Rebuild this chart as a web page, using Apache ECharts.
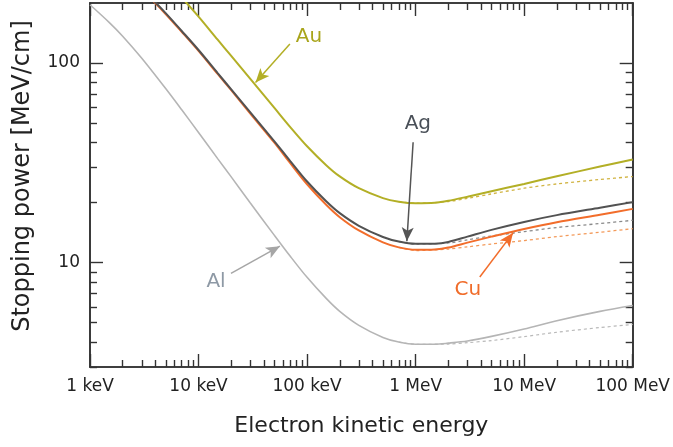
<!DOCTYPE html>
<html>
<head>
<meta charset="utf-8">
<script src="https://cdn.jsdelivr.net/npm/echarts@6/dist/echarts.min.js"></script>
<style>
  html, body { margin: 0; padding: 0; background: #ffffff; }
  #chart { width: 673px; height: 447px; }
</style>
</head>
<body>
<div id="chart"></div>
<script>
// Electron stopping power in four metals, energy in keV, stopping power in MeV/cm
const energyKeV = [1, 1.5, 2, 3, 5, 7, 10, 15, 20, 30, 50, 70, 100, 150, 200, 300, 500, 700,
  1000, 1500, 2000, 3000, 5000, 10000, 20000, 50000, 100000];

// total stopping power (solid curves)
const auTotal = [618, 505, 435, 349, 261, 213, 171, 131, 108.6, 83.3, 59.6, 47.8, 38.3, 30.8, 27.05, 23.6, 21.06, 20.2,
  19.85, 19.95, 20.4, 21.4, 22.8, 24.8, 27.1, 30.3, 32.9];
const agTotal = [420, 343, 296, 237, 177.5, 144.8, 116.3, 89.1, 73.8, 56.6, 40.5, 32.3, 25.5, 20.3, 17.7, 15.3, 13.45, 12.75,
  12.42, 12.45, 12.7, 13.5, 14.6, 16.0, 17.3, 18.85, 20.1];
const cuTotal = [416, 340, 293, 235, 175.7, 143.4, 115.1, 88.2, 73.1, 55.8, 39.9, 31.5, 24.7, 19.5, 16.9, 14.5, 12.64, 11.93,
  11.6, 11.65, 11.9, 12.6, 13.5, 14.75, 15.95, 17.4, 18.6];
const alTotal = [196, 160, 136.4, 105.7, 74.3, 58.3, 44.9, 33.2, 26.9, 19.9, 13.7, 10.76, 8.44, 6.62, 5.7, 4.85, 4.22, 4.0,
  3.9, 3.9, 3.95, 4.05, 4.27, 4.65, 5.12, 5.7, 6.1];

// collision-only stopping power (dashed curves), high-energy part
const highEnergyKeV = [700, 1000, 2000, 3000, 5000, 10000, 20000, 50000, 100000];
const auCollision = [20.2, 19.85, 20.25, 21.0, 22.1, 23.6, 24.8, 26.1, 27.0];
const agCollision = [12.75, 12.4, 12.55, 13.0, 13.6, 14.3, 15.0, 15.7, 16.3];
const cuCollision = [11.93, 11.5, 11.7, 12.0, 12.4, 12.9, 13.5, 14.2, 14.8];
const alCollision = [4.0, 3.9, 3.91, 3.97, 4.07, 4.26, 4.48, 4.73, 4.9];

// axis ticks
const xTickValues = [1, 10, 100, 1000, 10000, 100000];
const xTickLabels = ['1 keV', '10 keV', '100 keV', '1 MeV', '10 MeV', '100 MeV'];
const yTickValues = [10, 100];
const yTickLabels = ['10', '100'];
const yMinorValues = [3, 4, 5, 6, 7, 8, 9, 20, 30, 40, 50, 60, 70, 80, 90];

// element labels: [text, label energy, label value, arrow start energy, arrow start value, arrow tip energy, arrow tip value]
const auNote = ['Au', 104, 135, 69.4, 124.5, 33.5, 80];
const agNote = ['Ag', 1048, 49.7, 948, 40.1, 830, 12.8];
const cuNote = ['Cu', 3030, 7.27, 3900, 8.47, 7900, 14.1];
const alNote = ['Al', 14.5, 8.06, 19.9, 8.84, 56.2, 12.1];

const FONT = 'DejaVu Sans';
const AXIS_COLOR = '#333333';

const COLORS = {
  au: '#b3af26', auDash: '#d1b443',
  ag: '#525252', agDash: '#8a8a8a',
  cu: '#f26d2b', cuDash: '#f39a5a',
  al: '#b5b5b5', alDash: '#b9b9b9'
};
const LABEL_COLORS = { au: '#a9a51c', ag: '#4a5058', cu: '#f06c2a', al: '#8e99a5' };

function minorDecadeTicks(majors) {
  const out = [];
  for (let i = 0; i < majors.length - 1; i++) {
    for (let k = 2; k <= 9; k++) out.push(majors[i] * k);
  }
  return out;
}
const xMinorValues = minorDecadeTicks(xTickValues);

function pairs(xs, ys) { return xs.map((x, i) => [x, ys[i]]); }

function tickAxis(base, position, values, length) {
  return Object.assign({
    position: position,
    axisLine: { show: true, onZero: false, lineStyle: { color: AXIS_COLOR, width: 1.6 } },
    axisTick: { show: true, inside: true, length: length, customValues: values,
      lineStyle: { color: AXIS_COLOR, width: 1.4 } },
    axisLabel: { show: false },
    splitLine: { show: false },
    minorTick: { show: false },
    minorSplitLine: { show: false }
  }, base);
}

const xBase = { type: 'log', logBase: 10, min: 1, max: 100000 };
const yBase = { type: 'log', logBase: 10, min: 3, max: 200 };

function labelFor(values, labels) {
  return v => labels[values.findIndex(t => Math.abs(Math.log10(t) - Math.log10(v)) < 1e-6)];
}

const xMain = tickAxis(xBase, 'bottom', xTickValues, 13);
xMain.axisLabel = {
  show: true, customValues: xTickValues, margin: 11,
  fontFamily: FONT, fontSize: 17, color: '#222222',
  formatter: labelFor(xTickValues, xTickLabels)
};
xMain.name = 'Electron kinetic energy';
xMain.nameLocation = 'middle';
xMain.nameGap = 48;
xMain.nameTextStyle = { fontFamily: FONT, fontSize: 22, color: '#222222' };

const yMain = tickAxis(yBase, 'left', yTickValues, 13);
yMain.axisLabel = {
  show: true, customValues: yTickValues, margin: 10,
  fontFamily: FONT, fontSize: 17, color: '#222222',
  formatter: labelFor(yTickValues, yTickLabels)
};
yMain.name = 'Stopping power [MeV/cm]';
yMain.nameLocation = 'middle';
yMain.nameGap = 55;
yMain.nameTextStyle = { fontFamily: FONT, fontSize: 24, color: '#222222', padding: [0, 0, 0, 18] };

const xAxes = [
  xMain,
  tickAxis(xBase, 'bottom', xMinorValues, 7),
  tickAxis(xBase, 'top', xTickValues, 13),
  tickAxis(xBase, 'top', xMinorValues, 7)
];
const yAxes = [
  yMain,
  tickAxis(yBase, 'left', yMinorValues, 7),
  tickAxis(yBase, 'right', yTickValues, 13),
  tickAxis(yBase, 'right', yMinorValues, 7)
];

function curve(name, xs, ys, color, width, dashed) {
  return {
    name: name, type: 'line', xAxisIndex: 0, yAxisIndex: 0,
    data: pairs(xs, ys),
    showSymbol: false, symbol: 'none',
    smooth: 0.3,
    clip: true, silent: true,
    lineStyle: { color: color, width: width, type: dashed ? [3, 3] : 'solid' },
    z: dashed ? 2 : 3
  };
}

function annotate(series, note, arrowColor, textColor) {
  const [text, lx, ly, ax, ay, tx, ty] = note;
  series.markLine = {
    silent: true, animation: false,
    symbol: ['none', 'arrow'], symbolSize: [9, 14],
    lineStyle: { color: arrowColor, width: 1.5, type: 'solid' },
    label: { show: false },
    data: [[{ coord: [ax, ay] }, { coord: [tx, ty] }]]
  };
  series.markPoint = {
    silent: true, animation: false,
    symbol: 'circle', symbolSize: 0,
    label: { show: true, position: 'inside', formatter: text,
      fontFamily: FONT, fontSize: 20, color: textColor },
    data: [{ coord: [lx, ly] }]
  };
  return series;
}

const series = [
  curve('Al collision', highEnergyKeV, alCollision, COLORS.alDash, 1.2, true),
  curve('Au collision', highEnergyKeV, auCollision, COLORS.auDash, 1.3, true),
  curve('Cu collision', highEnergyKeV, cuCollision, COLORS.cuDash, 1.3, true),
  curve('Ag collision', highEnergyKeV, agCollision, COLORS.agDash, 1.3, true),
  annotate(curve('Al', energyKeV, alTotal, COLORS.al, 1.6, false), alNote, '#a6a6a6', LABEL_COLORS.al),
  annotate(curve('Au', energyKeV, auTotal, COLORS.au, 2, false), auNote, COLORS.au, LABEL_COLORS.au),
  annotate(curve('Cu', energyKeV, cuTotal, COLORS.cu, 2, false), cuNote, COLORS.cu, LABEL_COLORS.cu),
  annotate(curve('Ag', energyKeV, agTotal, COLORS.ag, 2, false), agNote, '#555555', LABEL_COLORS.ag)
];

const chart = echarts.init(document.getElementById('chart'), null, { renderer: 'canvas' });
chart.setOption({
  animation: false,
  backgroundColor: '#ffffff',
  grid: { left: 90, right: 40, top: 3, bottom: 80, containLabel: false },
  xAxis: xAxes,
  yAxis: yAxes,
  series: series
});
</script>
</body>
</html>
